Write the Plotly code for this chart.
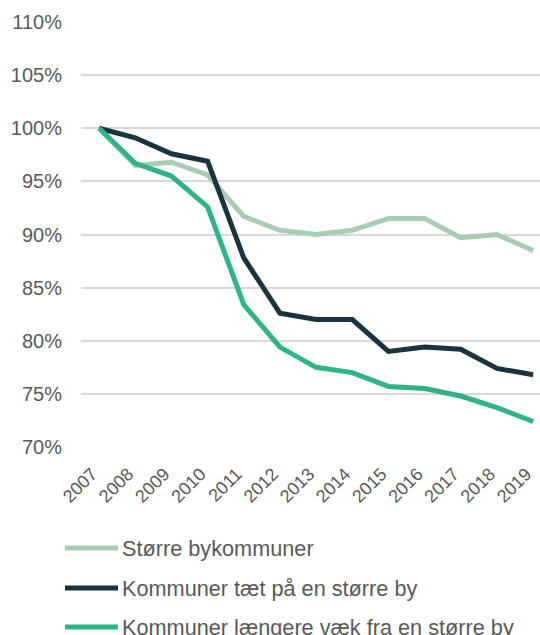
import plotly.graph_objects as go

# Years on the x axis
years = ["2007", "2008", "2009", "2010", "2011", "2012", "2013",
         "2014", "2015", "2016", "2017", "2018", "2019"]

# Index (2007 = 100%) per municipality group
stoerre_by = [100.0, 96.5, 96.8, 95.6, 91.7, 90.4, 90.0, 90.4, 91.5, 91.5, 89.7, 90.0, 88.5]
taet_paa = [100.0, 99.1, 97.6, 96.9, 87.8, 82.6, 82.0, 82.0, 79.0, 79.4, 79.2, 77.4, 76.8]
laengere_vaek = [100.0, 96.7, 95.5, 92.6, 83.4, 79.4, 77.5, 77.0, 75.7, 75.5, 74.8, 73.7, 72.4]

# y ticks
y_ticks = [70, 75, 80, 85, 90, 95, 100, 105, 110]
y_ticktext = [f"{v}%" for v in y_ticks]

names = ["Større bykommuner",
         "Kommuner tæt på en større by",
         "Kommuner længere væk fra en større by"]
colors = ["#A9CDB3", "#19333F", "#2EB38A"]
series = [stoerre_by, taet_paa, laengere_vaek]

W, H = 540, 635
L, R, T, B = 81, 0, 22, 188
pw, ph = W - L - R, H - T - B

fig = go.Figure()
for name, vals, col in zip(names, series, colors):
    fig.add_trace(go.Scatter(
        x=list(range(len(years))), y=vals, name=name, mode="lines",
        line=dict(color=col, width=5), showlegend=False,
    ))

# Legend drawn by hand so the line samples are as long as in the original
row_y = [548, 588, 627]
for ry, name, col in zip(row_y, names, colors):
    yp = (H - ry - B) / ph
    fig.add_shape(type="line", xref="paper", yref="paper",
                  x0=(65 - L) / pw, x1=(118 - L) / pw, y0=yp, y1=yp,
                  line=dict(color=col, width=5))
    fig.add_annotation(xref="paper", yref="paper",
                       x=(120 - L) / pw, y=yp,
                       text=name, showarrow=False, xanchor="left", yanchor="middle",
                       font=dict(size=21.7, color="#595959"))

fig.update_xaxes(
    range=[-0.5, 12.19], tickmode="array",
    tickvals=list(range(len(years))), ticktext=years,
    tickangle=-45, showgrid=False, zeroline=False, showline=False,
    tickfont=dict(size=18, color="#595959"), automargin=False,
    ticklabeloverflow="allow", ticklabelstandoff=12, ticklabelshift=-7,
)
fig.update_yaxes(
    range=[70, 110], tickmode="array", tickvals=y_ticks, ticktext=y_ticktext,
    showgrid=True, gridcolor="#D9D9D9", gridwidth=1.5,
    zeroline=False, ticklabelstandoff=18, automargin=False,
    tickfont=dict(size=20, color="#595959"),
)
fig.update_layout(
    width=W, height=H,
    margin=dict(l=L, r=R, t=T, b=B),
    plot_bgcolor="white", paper_bgcolor="white",
    font=dict(family="Liberation Sans, Arial, sans-serif"),
)

# the page body has a default 8px margin; drop it so the figure fills the window
fig.write_html("out.html", config={"displayModeBar": False},
               post_script="document.body.style.margin='0px';")
